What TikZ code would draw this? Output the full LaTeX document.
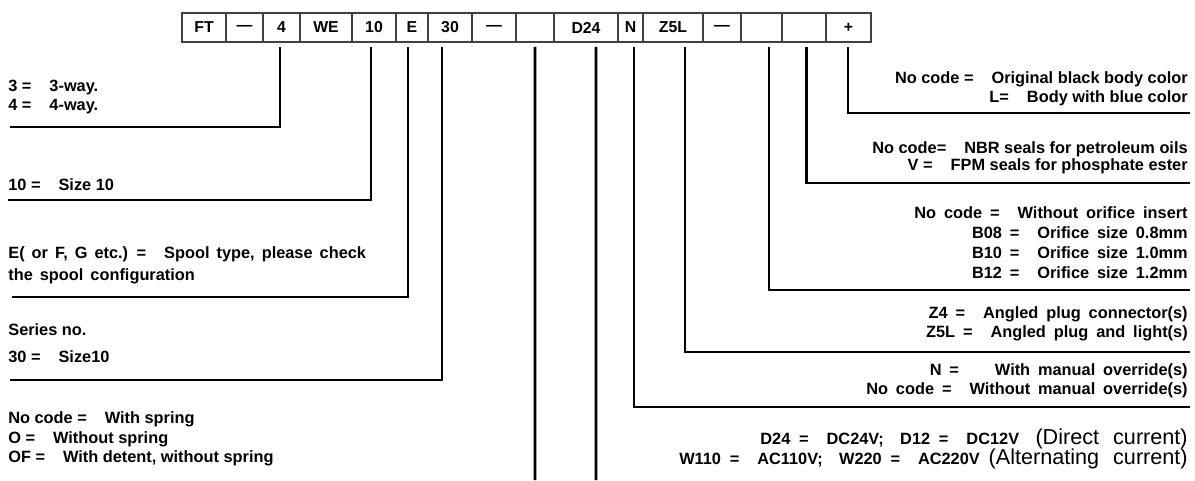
\documentclass[tikz,border=0pt]{standalone}
\usepackage{fontspec}
\setmainfont{Liberation Sans}
\usetikzlibrary{positioning}

\newcommand{\eqsep}{\hspace{1.1em}}
\newcommand{\plainpart}[1]{{\mdseries\fontsize{12.3}{14}\selectfont\spaceskip=8pt #1}}

\tikzset{
	codecell/.style={draw=black!75, line width=0.9pt, minimum width=#1*0.02cm,
			minimum height=0.58cm, inner sep=0pt, outer sep=0pt,
			font=\fontsize{9}{10}\selectfont\bfseries}
}
\tikzset{
	leader/.style={line width=1.6pt, black}
}
\tikzset{
	leftnote/.style={anchor=north west, align=left, inner sep=0pt,
			font=\fontsize{9.3}{10.8}\selectfont\bfseries}
}
\tikzset{
	rightnote/.style={anchor=north east, align=right, inner sep=0pt,
			font=\fontsize{9.3}{10.8}\selectfont\bfseries}
}
\tikzset{
	widewords/.style={execute at begin node={\spaceskip=#1 plus 1pt}}
}

\begin{document}
\begin{tikzpicture}[x=0.02cm, y=-0.02cm]

	\useasboundingbox[fill=white] (0,0) rectangle (1195,480);

	% the code row
	\node[codecell=44, anchor=north west] (cFT) at (182,13) {FT};
	\node[codecell=37, right=0pt of cFT] (cDashA) {---};
	\node[codecell=37, right=0pt of cDashA] (c4) {4};
	\node[codecell=52, right=0pt of c4] (cWE) {WE};
	\node[codecell=44, right=0pt of cWE] (c10) {10};
	\node[codecell=32, right=0pt of c10] (cE) {E};
	\node[codecell=44, right=0pt of cE] (c30) {30};
	\node[codecell=44, right=0pt of c30] (cDashB) {---};
	\node[codecell=38, right=0pt of cDashB] (cSpring) {};
	\node[codecell=64, right=0pt of cSpring] (cD24) {D24};
	\node[codecell=25, right=0pt of cD24] (cN) {N};
	\node[codecell=60, right=0pt of cN] (cZ5L) {Z5L};
	\node[codecell=38, right=0pt of cZ5L] (cDashC) {---};
	\node[codecell=41, right=0pt of cDashC] (cOrifice) {};
	\node[codecell=44, right=0pt of cOrifice] (cSeal) {};
	\node[codecell=45, right=0pt of cSeal] (cColor) {+};

	% notes on the left
	\node[leftnote] (n4) at (8,80) {3 =\eqsep 3-way.\\4 =\eqsep 4-way.};
	\node[leftnote] (n10) at (8,178) {10 =\eqsep Size 10};
	\node[leftnote, widewords=4pt, font=\fontsize{9.3}{12.5}\selectfont\bfseries] (nE) at (8,246)
		{E( or F, G etc.) =\eqsep Spool type, please check\\the spool configuration};
	\node[leftnote, font=\fontsize{9.3}{15.3}\selectfont\bfseries] (n30) at (8,323)
		{Series no.\\30 =\eqsep Size10};
	\node[leftnote, font=\fontsize{9.3}{11.3}\selectfont\bfseries] (nSpring) at (8,411)
		{No code =\eqsep With spring\\O =\eqsep Without spring\\OF =\eqsep With detent, without spring};

	% notes on the right
	\node[rightnote] (nColor) at (1188,71)
		{No code =\eqsep Original black body color\\L=\eqsep Body with blue color};
	\node[rightnote, font=\fontsize{9.3}{9.8}\selectfont\bfseries] (nSeal) at (1188,141)
		{No code=\eqsep NBR seals for petroleum oils\\V =\eqsep FPM seals for phosphate ester};
	\node[rightnote, widewords=4.5pt, font=\fontsize{9.3}{11.5}\selectfont\bfseries] (nOrifice) at (1188,206)
		{No code =\eqsep Without orifice insert\\B08 =\eqsep Orifice size 0.8mm\\
		 B10 =\eqsep Orifice size 1.0mm\\B12 =\eqsep Orifice size 1.2mm};
	\node[rightnote, widewords=4.5pt] (nZ5L) at (1188,306)
		{Z4 =\eqsep Angled plug connector(s)\\Z5L =\eqsep Angled plug and light(s)};
	\node[rightnote, widewords=4.5pt] (nN) at (1188,363)
		{N =\eqsep\eqsep With manual override(s)\\No code =\eqsep Without manual override(s)};
	\node[rightnote, widewords=5pt, font=\fontsize{9.3}{11.8}\selectfont\bfseries] (nD24) at (1188,428)
		{D24 =\eqsep DC24V;\quad D12 =\eqsep DC12V\quad\plainpart{(Direct current)}\\
		 W110 =\eqsep AC110V;\quad W220 =\eqsep AC220V \plainpart{(Alternating current)}};

	% leader lines
	\coordinate (e4) at (10,127);
	\coordinate (e10) at (8,200);
	\coordinate (eE) at (12,297);
	\coordinate (e30) at (10,380);
	\coordinate (eSpring) at (535,480);
	\coordinate (eD24) at (596,480);
	\coordinate (eN) at (1190,407);
	\coordinate (eZ5L) at (1190,352);
	\coordinate (eOrifice) at (1190,290);
	\coordinate (eSeal) at (1190,183);
	\coordinate (eColor) at (1190,113);

	\draw[leader] (c4.south) ++(-1.5,5) |- (e4);
	\draw[leader] (c10.south) ++(-3,5) |- (e10);
	\draw[leader] (cE.south) ++(-4,5) |- (eE);
	\draw[leader] (c30.south) ++(-8,5) |- (e30);
	\draw[leader] (cSpring.south) ++(0,5) -- (eSpring);
	\draw[leader] (cD24.south) ++(10,5) -- (eD24);
	\draw[leader] (cN.south) ++(3.5,5) |- (eN);
	\draw[leader] (cZ5L.south) ++(12,5) |- (eZ5L);
	\draw[leader] (cOrifice.south) ++(7.5,5) |- (eOrifice);
	\draw[leader] (cSeal.south) ++(2.5,5) |- (eSeal);
	\draw[leader] (cColor.south) ++(-0.5,5) |- (eColor);

\end{tikzpicture}
\end{document}
